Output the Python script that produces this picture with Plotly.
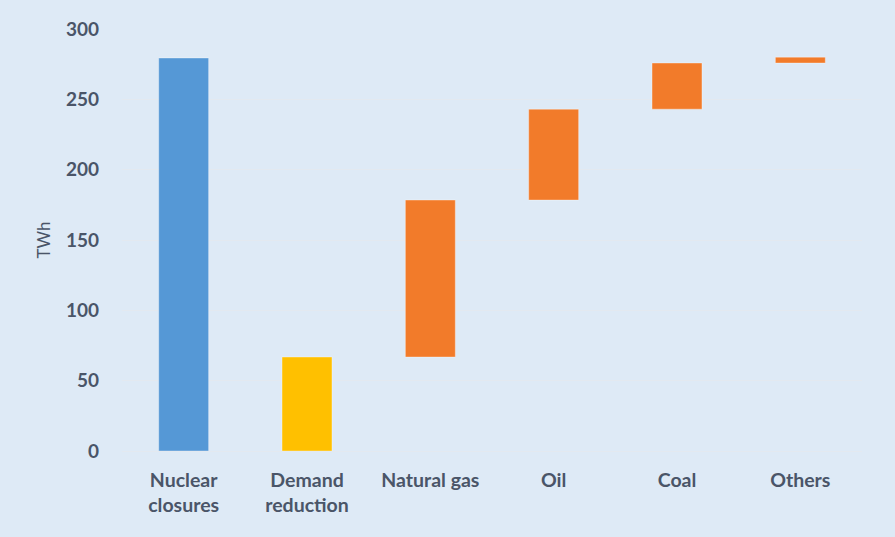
import plotly.graph_objects as go

categories = ["Nuclear<br>closures", "Demand<br>reduction", "Natural gas", "Oil", "Coal", "Others"]
bases = [0, 0, 66.8, 178.4, 243.0, 275.8]
values = [279.4, 66.8, 111.6, 64.6, 32.8, 4.2]
colors = ["#5598D6", "#FFC000", "#F27B2A", "#F27B2A", "#F27B2A", "#F27B2A"]
y_ticks = [0, 50, 100, 150, 200, 250, 300]

bg = "#DEEAF6"
txt = "#4A5568"

fig = go.Figure()
fig.add_trace(go.Bar(
    x=categories, y=values, base=bases,
    marker=dict(color=colors, line=dict(color="rgba(255,255,255,0.35)", width=1)),
    showlegend=False, hoverinfo="skip",
))

fig.update_layout(
    width=895, height=537,
    paper_bgcolor=bg, plot_bgcolor=bg,
    margin=dict(l=122, r=33, t=29, b=86),
    bargap=0.595,
    font=dict(family="Lato", color=txt),
    xaxis=dict(
        showgrid=False, showline=False, zeroline=False, ticks="",
        tickfont=dict(size=19.5, family="Lato", weight="bold", color=txt),
        ticklabelstandoff=15,
    ),
    yaxis=dict(
        range=[0, 300], tickvals=y_ticks, showgrid=True, gridcolor="#E3E9F0", gridwidth=1,
        zeroline=True, zerolinecolor="#E3E9F0", zerolinewidth=1,
        showline=False, ticks="",
        tickfont=dict(size=19, family="Lato", weight="bold", color=txt),
        ticklabelstandoff=22,
        title=dict(text="TWh", font=dict(size=17, family="Lato", color=txt), standoff=10),
    ),
)

fig.write_html(
    "out.html",
    config={"displayModeBar": False},
    post_script="document.body.style.margin='0';document.body.style.background='%s';" % bg,
)
